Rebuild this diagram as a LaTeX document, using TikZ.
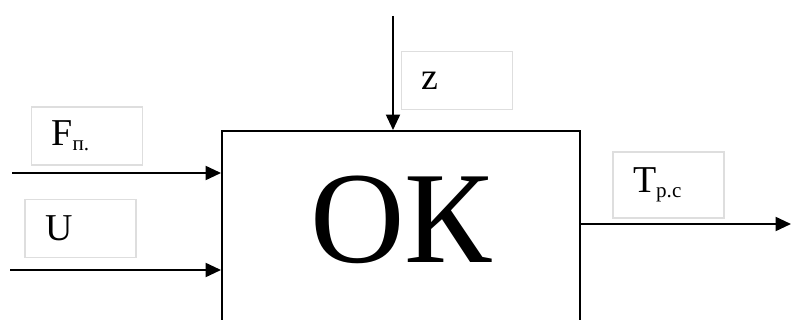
\documentclass[tikz,border=0pt]{standalone}
\usepackage{fontspec}
\setmainfont{Liberation Serif}
\usetikzlibrary{arrows.meta, positioning}
\newcommand{\lowidx}[1]{\raisebox{-0.12em}{\fontsize{15}{15}\selectfont #1}}

\begin{document}
\begin{tikzpicture}[
  plant/.style={draw, line width=1.4pt, minimum width=8.95cm, minimum height=5.5cm, inner sep=0pt},
  bigtxt/.style={font=\fontsize{93}{93}\selectfont, inner sep=0pt},
  sigbox/.style={draw=black!13, line width=0.9pt, minimum height=1.45cm, text width=1.775cm, inner xsep=0.5cm, align=left, font=\fontsize{27}{30}\selectfont},
  sig/.style={line width=1.4pt, -{Triangle[length=11pt, width=10pt]}}
]
  \clip (0,0) rectangle (19.775,8);
  \node[plant] (ok) at (10.025, 1.975) {};
  \node[bigtxt] (oktxt) at (10.025, 2.5) {ОК};

  \node[sigbox] (lblF) at (2.175, 4.6) {F\lowidx{п.}};
  \node[sigbox] (lblU) at (2.0125, 2.2875) {U};
  \node[sigbox] (lblZ) at (11.425, 5.9875) {z};
  \node[sigbox, minimum height=1.65cm] (lblT) at (16.7125, 3.375) {T\lowidx{р.с}};

  \coordinate (inF) at (0.3, 3.675);
  \coordinate (inU) at (0.25, 1.25);
  \coordinate (inZ) at (9.825, 7.6);
  \coordinate (outT) at (19.775, 2.4);

  \draw[sig] (inF) -- (inF -| ok.west);
  \draw[sig] (inU) -- (inU -| ok.west);
  \draw[sig] (inZ) -- (inZ |- ok.north);
  \draw[sig] (outT -| ok.east) -- (outT);
\end{tikzpicture}
\end{document}
